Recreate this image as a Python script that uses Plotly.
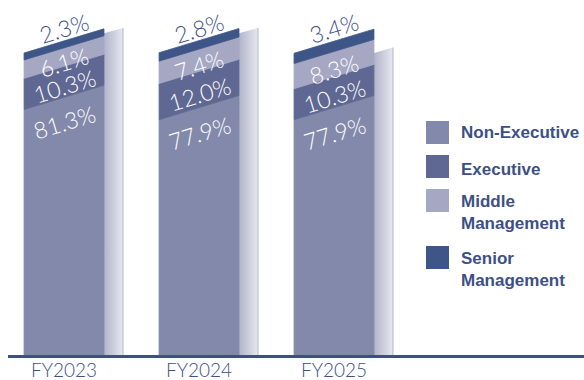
import plotly.graph_objects as go

# Workforce composition by employee category (% of total headcount)
years = ["FY2023", "FY2024", "FY2025"]
non_executive = [81.3, 77.9, 77.9]
executive = [10.3, 12.0, 10.3]
middle_mgmt = [6.1, 7.4, 8.3]
senior_mgmt = [2.3, 2.8, 3.4]

series_names = ["Non-Executive", "Executive", "Middle<br>Management", "Senior<br>Management"]
series_values = [non_executive, executive, middle_mgmt, senior_mgmt]
series_colors = ["#8289ab", "#5f6893", "#a5a7c3", "#3e5588"]

TEXT_BLUE = "#3d5086"

# geometry of the pseudo-3D columns (x in category units, y in percent)
HALF_W = 0.296        # half width of the front face
SIDE_W = 0.141        # depth of the shaded side panel
SLANT = 8.0           # rise of every segment edge across the front face
SIDE_TOP = [106.5, 106.5, 100.0]   # height of the side panel at its near edge
SIDE_RISE = 1.8

fig = go.Figure()

# shaded side panels
for i in range(len(years)):
    xr = i + HALF_W
    xs = xr + SIDE_W
    fig.add_trace(go.Scatter(
        x=[xr, xs, xs, xr, xr],
        y=[0, 0, SIDE_TOP[i] + SIDE_RISE, SIDE_TOP[i], 0],
        mode="lines", fill="toself",
        line=dict(width=0, color="#b0b3c8"),
        fillgradient=dict(type="horizontal",
                          colorscale=[[0, "#b1b4ca"], [1, "#e7e8f0"]]),
        hoverinfo="skip", showlegend=False,
    ))
    fig.add_trace(go.Scatter(
        x=[xs, xs], y=[0, SIDE_TOP[i] + SIDE_RISE],
        mode="lines", line=dict(width=1, color="#b3b6cb"),
        hoverinfo="skip", showlegend=False,
    ))

# front faces: stacked segments with slanted edges
for i in range(len(years)):
    xl = i - HALF_W
    xr = i + HALF_W
    base = 0.0
    for k, vals in enumerate(series_values):
        lo = base
        hi = base + vals[i]
        lo_r = lo + (SLANT if k > 0 else 0.0)
        fig.add_trace(go.Scatter(
            x=[xl, xr, xr, xl, xl],
            y=[lo, lo_r, hi + SLANT, hi, lo],
            mode="lines", fill="toself",
            fillcolor=series_colors[k],
            line=dict(width=0.8, color=series_colors[k]),
            hoverinfo="skip", showlegend=False,
        ))
        base = hi

annotations = []
label_font = dict(family="Lato", size=23, color="white", weight=300)
for i in range(len(years)):
    c0 = non_executive[i]
    c1 = c0 + executive[i]
    c2 = c1 + middle_mgmt[i]
    c3 = c2 + senior_mgmt[i]
    mid = SLANT / 2
    # Non-Executive label sits near the top of its segment
    annotations.append(dict(x=i, y=c0 + mid, yshift=-25, text=f"{non_executive[i]:.1f}%",
                            showarrow=False, textangle=-17, font=label_font))
    annotations.append(dict(x=i, y=(c0 + c1) / 2 + mid, yshift=-4, text=f"{executive[i]:.1f}%",
                            showarrow=False, textangle=-17, font=label_font))
    annotations.append(dict(x=i, y=(c1 + c2) / 2 + mid, yshift=-5, text=f"{middle_mgmt[i]:.1f}%",
                            showarrow=False, textangle=-17, font=label_font))
    annotations.append(dict(x=i, y=c3 + mid, yshift=13, text=f"{senior_mgmt[i]:.1f}%",
                            showarrow=False, textangle=-17,
                            font=dict(family="Lato", size=23, color=TEXT_BLUE, weight=300)))

# legend built from swatches and labels (pixel layout converted to paper units)
PLOT_L, PLOT_W, PLOT_H = 8, 576, 355


def px_x(p):
    return (p - PLOT_L) / PLOT_W


def px_y(p):
    return (PLOT_H - p) / PLOT_H


legend_rows = [(121, 133), (155, 169), (189, 212), (246, 269)]
shapes = []
for k, name in enumerate(series_names):
    top, text_mid = legend_rows[k]
    shapes.append(dict(type="rect", xref="paper", yref="paper",
                       x0=px_x(426), x1=px_x(449), y0=px_y(top + 23), y1=px_y(top),
                       fillcolor=series_colors[k], line=dict(width=0)))
    annotations.append(dict(xref="paper", yref="paper", x=px_x(459), y=px_y(text_mid),
                            xanchor="left", yanchor="middle", align="left",
                            text=name, showarrow=False,
                            font=dict(family="Liberation Sans", size=17,
                                      color=TEXT_BLUE, weight="bold")))

fig.update_layout(
    width=584, height=380,
    margin=dict(l=PLOT_L, r=0, t=0, b=25, autoexpand=False),
    paper_bgcolor="white", plot_bgcolor="white",
    showlegend=False,
    annotations=annotations,
    shapes=shapes,
    xaxis=dict(range=[-0.415, 3.852], tickvals=list(range(len(years))), ticktext=years,
               showgrid=False, zeroline=False, showline=True,
               linecolor=TEXT_BLUE, linewidth=2.5, ticks="",
               ticklabelstandoff=-4, automargin=False,
               tickfont=dict(family="Lato", size=19, color=TEXT_BLUE, weight=300),
               fixedrange=True),
    yaxis=dict(range=[0, 117.55], visible=False, fixedrange=True),
)

fig.write_html("out.html")
